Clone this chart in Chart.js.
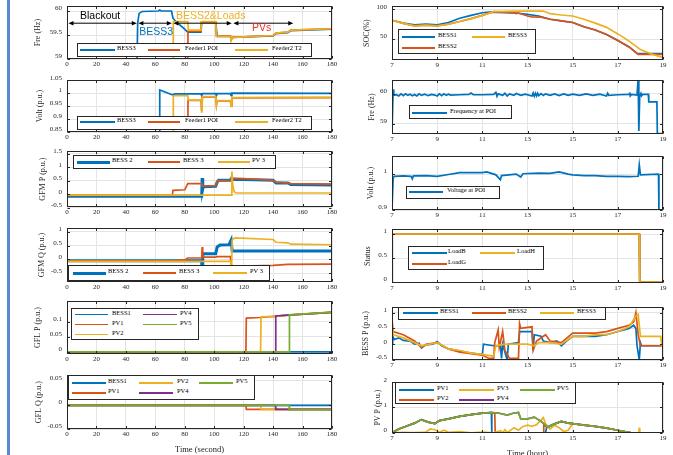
<!DOCTYPE html>
<html>
<head>
<meta charset="utf-8">
<script src="https://cdn.jsdelivr.net/npm/chart.js@4.4.1/dist/chart.umd.min.js"></script>
<style>
  body { margin:0; background:#fff; width:673px; height:455px; overflow:hidden; position:relative; }
  canvas { position:absolute; }
  .bar { position:absolute; left:7px; top:0; width:2.5px; height:455px; background:#5a8acb; }
  .leg { position:absolute; box-sizing:border-box; border:1px solid #262626; background:#fff; }
  .sw { position:absolute; }
  .lt { position:absolute; font:6.5px "Liberation Serif"; line-height:8px; color:#000; white-space:nowrap; }
</style>
</head>
<body>
<div class="bar"></div>
<script>
// ---------- data ----------
const tickSec = [0,20,40,60,80,100,120,140,160,180];
const tickHour = [7,9,11,13,15,17,19];

// Fre (Hz), left
const fre_BESS3 = [[0,58.8],[47.5,58.8],[48,59.75],[49,59.95],[51,59.99],[62,60.0],[63,60.02],[64,60.0],[71,60.0],[72,59.85],[74,59.78],[79,59.65],[82,59.56],[91,59.56],[91.5,59.76],[101,59.76],[102,59.47],[111,59.47],[111.5,59.4],[112.5,59.45],[140,59.48],[142,59.53],[150,59.55],[152,59.59],[180,59.62]];
const fre_F1POI = [[0,58.8],[82,58.8],[82.2,59.58],[91,59.58],[91.3,59.77],[101,59.77],[101.5,59.48],[111,59.48],[111.5,59.4],[112.5,59.45],[140,59.49],[142,59.54],[150,59.56],[152,59.6],[180,59.63]];
const fre_F2T2 = [[0,58.8],[72,58.8],[72.2,59.78],[82,59.78],[82.5,59.6],[91,59.6],[91.3,59.78],[101,59.78],[101.5,59.47],[111,59.47],[111.5,59.38],[112.5,59.45],[140,59.49],[142,59.54],[150,59.56],[152,59.6],[180,59.63]];

// Volt (p.u.), left
const volt_BESS3 = [[0,0.8],[62.8,0.8],[63,1.012],[71,0.995],[72,0.993],[73,0.997],[91,0.997],[91.5,0.99],[92,0.998],[101,0.998],[101.5,0.99],[102,0.998],[111,0.998],[111.5,0.99],[112,1.0],[180,0.999]];
const volt_F1POI = [[0,0.8],[82,0.8],[82.2,0.972],[91,0.972],[91.5,0.93],[92,0.986],[101,0.986],[101.5,0.955],[102,0.97],[111,0.97],[111.5,0.95],[112,0.982],[180,0.983]];
const volt_F2T2 = [[0,0.8],[72,0.8],[72.2,0.99],[82,0.99],[82.5,0.973],[91,0.973],[91.5,0.924],[92,0.987],[101,0.987],[101.5,0.952],[102,0.971],[111,0.971],[111.5,0.949],[112,0.983],[180,0.984]];

// GFM P (p.u.)
const gfmP_BESS2 = [[0,-0.07],[91.5,-0.07],[91.8,0.6],[92.2,0.2],[92.5,0.28],[101,0.3],[102,0.45],[103,0.52],[111,0.52],[111.8,0.6],[112.5,0.55],[120,0.55],[140,0.52],[142,0.42],[150,0.42],[152,0.36],[180,0.35]];
const gfmP_BESS3 = [[0,-0.04],[71.5,-0.04],[72,0.15],[80,0.17],[82,0.4],[91.5,0.4],[92,0.3],[101,0.32],[102,0.5],[111,0.52],[112,0.6],[120,0.58],[140,0.52],[142,0.45],[150,0.42],[152,0.4],[180,0.38]];
const gfmP_PV3 = [[0,-0.03],[111.5,-0.03],[112,0.85],[112.6,0.35],[113.5,0.1],[115,0.05],[180,0.05]];

// GFM Q (p.u.)
const gfmQ_BESS2 = [[0,-0.05],[91.5,-0.05],[91.8,-0.8],[92.2,0.2],[101,0.2],[102,0.45],[104,0.52],[110,0.53],[111.5,0.7],[112.2,0.3],[180,0.3]];
const gfmQ_BESS3 = [[0,-0.05],[72,-0.05],[80,-0.02],[82,0.05],[91.5,0.05],[91.8,0.45],[92.2,0.08],[101,0.08],[102,0.1],[111,0.1],[111.5,-0.2],[113,-0.25],[140,-0.22],[150,-0.18],[180,-0.17]];
const gfmQ_PV3 = [[0,-0.07],[111.3,-0.07],[111.6,-0.85],[112.2,0.7],[114,0.78],[140,0.72],[142,0.62],[150,0.6],[152,0.55],[180,0.53]];

// GFL P (p.u.)
const gflP_BESS1 = [[0,0],[180,0]];
const gflP_PV1 = [[0,0],[121.5,0],[121.8,0.112],[131,0.114],[141,0.118],[150,0.122],[180,0.131]];
const gflP_PV2 = [[0,0],[131.5,0],[131.8,0.116],[141,0.118],[150,0.122],[180,0.131]];
const gflP_PV4 = [[0,0],[141.5,0],[141.8,0.119],[150,0.122],[180,0.131]];
const gflP_PV5 = [[0,0],[150.8,0],[151.1,0.123],[180,0.132]];

// GFL Q (p.u.)
const gflQ_BESS1 = [[0,-0.001],[180,-0.001]];
const gflQ_PV1 = [[0,-0.001],[121.5,-0.001],[121.8,-0.009],[180,-0.009]];
const gflQ_PV2 = [[0,-0.001],[131.5,-0.001],[131.8,-0.009],[180,-0.009]];
const gflQ_PV4 = [[0,-0.001],[141.5,-0.001],[141.8,-0.009],[180,-0.009]];
const gflQ_PV5 = [[0,-0.001],[150.8,-0.001],[151.1,-0.01],[180,-0.01]];

// SOC (%)
const soc_BESS1 = [[7,81.9],[7.5,77],[8,74.2],[8.5,75.3],[9,74.2],[9.5,78],[10,85.2],[10.5,90],[11,94.5],[11.3,95.6],[12,94.5],[12.5,94],[13,91.8],[13.5,89],[14,83.5],[14.5,80.8],[15,78],[15.5,70.9],[16,65.4],[16.5,57.7],[17,47.8],[17.5,36.8],[17.85,25.8],[19,25.8]];
const soc_BESS2 = [[7,81.9],[7.5,76.5],[8,72.5],[8.5,73.6],[9,72.5],[9.5,75.3],[10,79.7],[10.5,84.6],[11,90],[11.5,96.2],[12,95.6],[12.4,94],[12.5,92.9],[12.6,94],[13,89],[13.2,87.4],[13.6,87],[14,83.5],[14.5,80.8],[15,78],[15.5,70.9],[16,65.4],[16.5,57.7],[17,47.8],[17.5,36.8],[17.9,24.2],[19,24.2]];
const soc_BESS3 = [[7,81.9],[7.5,76.5],[8,72.5],[8.5,73.6],[9,72.5],[9.5,75.3],[10,79.7],[10.5,84.6],[11,90],[11.5,96.2],[12,96.7],[12.5,97.3],[13,97.3],[13.7,97.3],[14,92.9],[14.5,90.7],[15,89],[15.5,83.5],[16,76.9],[16.5,69.8],[17,58.8],[17.5,46.7],[18,32.4],[18.5,24.7],[19,19.2]];

// Frequency at POI (Hz)
const frePOI = [[7,58.66],[7.03,58.66],[7.05,60.15],[7.08,59.95],[7.2,59.97],[7.3,59.93],[7.4,60.0],[7.5,59.94],[7.6,60.0],[7.7,59.95],[7.8,59.99],[7.9,59.94],[8.0,59.98],[8.1,59.93],[8.2,60.0],[8.3,59.95],[8.45,59.99],[8.6,59.94],[8.75,59.98],[8.9,59.96],[9.0,59.93],[9.1,60.0],[9.2,59.94],[9.3,60.0],[9.4,59.95],[9.5,59.99],[9.6,59.96],[10.0,59.97],[10.4,59.98],[10.5,60.03],[10.6,59.97],[11.0,59.97],[11.5,59.98],[11.6,60.05],[11.65,59.92],[11.7,60.0],[11.9,59.95],[12.0,60.02],[12.1,59.93],[12.2,60.0],[12.4,59.95],[12.5,60.01],[12.7,59.95],[12.9,59.99],[13.2,59.93],[13.25,60.03],[13.3,59.92],[13.35,60.02],[13.4,59.93],[13.45,60.02],[13.5,59.94],[13.6,60.01],[13.7,59.95],[13.8,60.0],[14.0,59.95],[14.2,60.0],[14.4,59.94],[14.6,60.0],[14.8,59.95],[15.0,59.99],[15.3,59.95],[15.6,60.0],[15.9,59.95],[16.2,59.99],[16.5,59.93],[16.55,60.02],[16.6,59.95],[17.0,59.97],[17.5,59.98],[17.52,60.05],[17.55,59.93],[17.6,59.98],[17.85,59.96],[17.9,60.5],[17.93,58.75],[17.97,59.95],[18.02,60.02],[18.05,59.93],[18.1,59.98],[18.35,59.98],[18.37,59.73],[18.73,59.73],[18.75,58.66],[19,58.66]];

// Voltage at POI (p.u.)
const voltPOI = [[7,0.9],[7.03,0.9],[7.05,0.989],[7.1,0.994],[7.5,0.995],[7.85,0.994],[7.9,0.987],[7.95,0.995],[8.5,0.996],[9,0.994],[9.5,0.999],[10,1.004],[11,1.004],[11.2,1.006],[11.6,0.998],[11.8,0.984],[11.85,0.996],[12.5,1.0],[12.7,0.992],[12.8,1.001],[13.5,1.003],[14,1.002],[14.4,1.006],[14.8,1.0],[15,0.998],[15.5,0.996],[16,0.996],[16.5,0.994],[17,0.994],[17.5,0.993],[17.9,0.994],[17.95,1.026],[18.0,0.998],[18.8,1.0],[18.82,0.9],[19,0.9]];

// Status
const st_LoadB = [[7,0],[7.01,1],[17.95,1],[17.97,0],[19,0]];
const st_LoadG = [[7,0],[7.01,1],[17.95,1],[17.97,0],[19,0]];
const st_LoadH = [[7,0],[7.01,1],[17.95,1],[17.97,0],[19,0]];

// BESS P (p.u.)
const bessP_BESS1 = [[7,0],[7.03,0.25],[7.1,0.15],[7.3,0.2],[7.5,0.12],[7.8,0.1],[8.0,0.0],[8.2,0.03],[8.3,-0.12],[8.5,-0.02],[8.8,0.0],[9.0,0.08],[9.2,-0.05],[9.5,-0.15],[10,-0.22],[10.5,-0.28],[11,-0.33],[11.05,0],[11.5,-0.05],[11.8,-0.05],[11.85,-0.45],[11.9,0],[12.1,-0.5],[12.15,0],[12.6,0.05],[12.65,0.4],[13.2,0.4],[13.25,-0.2],[13.3,0.3],[13.6,0.25],[13.7,0.1],[14.0,0.05],[14.3,0.1],[14.5,-0.05],[14.7,0.08],[15,0.25],[15.5,0.25],[16,0.25],[16.5,0.3],[17,0.4],[17.5,0.5],[17.7,0.6],[17.8,0.5],[17.85,-0.05],[17.95,-0.5],[18,0.05],[18.05,-0.05],[19,-0.05]];
const bessP_BESS2 = [[7,0.8],[7.05,0.4],[7.5,0.3],[8,0.1],[8.3,-0.1],[8.5,0.0],[9,0.05],[9.5,-0.15],[10,-0.25],[10.5,-0.3],[11,-0.35],[11.3,-0.45],[11.5,-0.45],[11.55,0.05],[11.7,0.45],[11.75,-0.1],[11.9,0.4],[12.0,-0.2],[12.2,-0.45],[12.6,-0.45],[12.65,0.65],[12.7,0.5],[13.2,0.55],[13.25,-0.2],[13.4,0.1],[13.8,0.3],[14,0.1],[14.5,0.05],[15,0.35],[15.5,0.35],[16,0.35],[16.5,0.4],[17,0.5],[17.5,0.6],[17.7,0.7],[17.8,1.0],[17.9,0.3],[18,-0.05],[19,-0.05]];
const bessP_BESS3 = [[7,0.7],[7.05,0.3],[7.5,0.2],[8,0.05],[8.3,-0.05],[9,0.05],[9.5,-0.15],[10,-0.2],[10.5,-0.28],[11,-0.32],[11.5,-0.38],[11.6,-0.05],[12,0.0],[12.5,0.0],[13,0.0],[13.3,-0.05],[13.5,0.05],[14,0.05],[14.5,0.0],[15,0.25],[15.5,0.25],[16,0.3],[16.5,0.3],[17,0.4],[17.5,0.55],[17.8,0.9],[17.9,0.95],[18.0,0.25],[18.9,0.25],[18.95,-0.05],[19,-0.05]];

// PV P (p.u.)
const pvP_PV1 = [[7,0],[7.3,0.15],[7.6,0.25],[8,0.38],[8.3,0.52],[8.6,0.42],[8.9,0.36],[9.1,0.48],[9.5,0.55],[10,0.65],[10.5,0.72],[11,0.78],[11.4,0.8],[11.42,0],[13.8,0],[13.85,0.22],[14.2,0.35],[14.5,0.45],[14.8,0.38],[15,0.36],[15.5,0.3],[16,0.25],[16.5,0.18],[17,0.1],[17.4,0.03],[17.6,0],[19,0]];
const pvP_PV2 = [[7,0],[7.3,0.15],[7.6,0.25],[8,0.38],[8.3,0.52],[8.6,0.42],[8.9,0.36],[9.1,0.48],[9.5,0.55],[10,0.65],[10.5,0.72],[11,0.78],[11.4,0.8],[11.55,0.79],[11.57,0],[13.7,0],[13.72,0.3],[13.9,0.22],[14.2,0.35],[14.5,0.45],[14.8,0.38],[15,0.36],[15.5,0.3],[16,0.25],[16.5,0.18],[17,0.1],[17.4,0.03],[17.6,0],[19,0]];
const pvP_PV3 = [[7,0],[7.5,0.02],[8,0.01],[8.5,0.03],[8.7,0.15],[8.9,0.12],[9.1,0.02],[9.3,0.1],[9.5,0.02],[10,0.05],[10.5,0.0],[11,0.03],[11.5,0.0],[11.8,0.08],[11.9,0.0],[12.0,0.12],[12.1,0.0],[12.4,0.2],[12.6,0.1],[12.8,0.25],[13,0.3],[13.2,0.25],[13.4,0.32],[13.6,0.5],[13.7,0.6],[13.8,0.35],[14.0,0.15],[14.2,0.3],[14.4,0.2],[14.6,0.05],[14.8,0.1],[15,0.36],[15.5,0.3],[16,0.25],[16.5,0.18],[17,0.1],[17.4,0.03],[17.6,0],[17.93,0],[17.95,0.2],[17.97,0],[19,0]];
const pvP_PV4 = [[7,0],[7.3,0.15],[7.6,0.25],[8,0.38],[8.3,0.52],[8.6,0.42],[8.9,0.36],[9.1,0.48],[9.5,0.55],[10,0.65],[10.5,0.72],[11,0.78],[11.4,0.8],[11.7,0.78],[12.1,0.7],[12.4,0.78],[12.6,0.8],[12.7,0.55],[13,0.55],[13.3,0.62],[13.6,0.45],[13.9,0.22],[14.2,0.35],[14.5,0.45],[14.8,0.38],[15,0.36],[15.5,0.3],[16,0.25],[16.5,0.18],[17,0.1],[17.4,0.03],[17.6,0],[19,0]];
const pvP_PV5 = [[7,0],[7.3,0.15],[7.6,0.25],[8,0.38],[8.3,0.52],[8.6,0.42],[8.9,0.36],[9.1,0.48],[9.5,0.55],[10,0.65],[10.5,0.72],[11,0.78],[11.4,0.8],[11.7,0.78],[12.1,0.7],[12.4,0.78],[12.6,0.8],[12.7,0.55],[13,0.55],[13.3,0.62],[13.6,0.45],[13.9,0.22],[14.2,0.35],[14.5,0.45],[14.8,0.38],[15,0.36],[15.5,0.3],[16,0.25],[16.5,0.18],[17,0.1],[17.4,0.03],[17.6,0],[19,0]];

// stage annotations of the first panel (seconds)
const stageNames = ['Blackout','BESS3','BESS2&Loads','PVs'];
const stageSpans = [[1,47.4],[48.5,71.2],[72.3,111.9],[113,153.7]];
const stageTextAt = [8.8,49,74,125.7];

// ---------- drawing ----------
const C = { blue:'#0072BD', red:'#D95319', yel:'#EDB120', pur:'#7E2F8E', grn:'#77AC30' };
const PAD_T = 8, PAD_R = 12;
const SERIF = 'Liberation Serif';

const boxPlugin = {
  id: 'matBox',
  afterDatasetsDraw(ch) {
    const { ctx, chartArea: a, scales: { x, y } } = ch;
    const L = Math.round(a.left) + 0.5, R = Math.round(a.right) - 0.5;
    const T = Math.round(a.top) + 0.5, B = Math.round(a.bottom) - 0.5;
    ctx.save();
    ctx.strokeStyle = '#262626';
    ctx.lineWidth = 1;
    ctx.beginPath();
    x.ticks.forEach(t => {
      const p = Math.round(x.getPixelForValue(t.value)) + 0.5;
      ctx.moveTo(p, B); ctx.lineTo(p, B - 2.5);
      ctx.moveTo(p, T); ctx.lineTo(p, T + 2.5);
    });
    y.ticks.forEach(t => {
      const p = Math.round(y.getPixelForValue(t.value)) + 0.5;
      ctx.moveTo(L, p); ctx.lineTo(L + 2.5, p);
      ctx.moveTo(R, p); ctx.lineTo(R - 2.5, p);
    });
    ctx.stroke();
    ctx.strokeRect(L, T, R - L, B - T);
    ctx.restore();
  }
};

const stagePlugin = {
  id: 'stages',
  afterDatasetsDraw(ch) {
    const { ctx, chartArea: a, scales: { x } } = ch;
    const colors = ['#000', C.blue, C.yel, '#e8302a'];
    const textY = [10, 26, 10, 22];
    const ay = a.top + 17;
    ctx.save();
    ctx.strokeStyle = '#000'; ctx.fillStyle = '#000'; ctx.lineWidth = 1;
    stageSpans.forEach(([s, e]) => {
      const x1 = x.getPixelForValue(s), x2 = x.getPixelForValue(e);
      ctx.beginPath(); ctx.moveTo(x1 + 3, ay); ctx.lineTo(x2 - 3, ay); ctx.stroke();
      ctx.beginPath(); ctx.moveTo(x1, ay); ctx.lineTo(x1 + 5, ay - 2.2); ctx.lineTo(x1 + 5, ay + 2.2); ctx.closePath(); ctx.fill();
      ctx.beginPath(); ctx.moveTo(x2, ay); ctx.lineTo(x2 - 5, ay - 2.2); ctx.lineTo(x2 - 5, ay + 2.2); ctx.closePath(); ctx.fill();
    });
    ctx.font = '10.5px "Liberation Sans"';
    ctx.textBaseline = 'middle';
    stageNames.forEach((n, i) => {
      ctx.fillStyle = colors[i];
      ctx.fillText(n, x.getPixelForValue(stageTextAt[i]), a.top + textY[i]);
    });
    ctx.restore();
  }
};

function addLegend(lg, series) {
  const [bl, bt, bw, bh] = lg.box;
  const d = document.createElement('div');
  d.className = 'leg';
  d.style.cssText = `left:${bl}px;top:${bt}px;width:${bw}px;height:${bh}px`;
  series.forEach((s, i) => {
    const col = lg.cols[Math.floor(i / lg.rows.length)];
    const ry = lg.rows[i % lg.rows.length];
    const lw = s.lw || 1.8;
    const sw = document.createElement('div');
    sw.className = 'sw';
    sw.style.cssText = `left:${col[0] - bl - 1}px;top:${ry - bt - 1 - lw / 2}px;width:${col[1]}px;height:${lw}px;background:${s.color}`;
    const t = document.createElement('div');
    t.className = 'lt';
    t.textContent = s.name;
    t.style.cssText = `left:${col[2] - bl - 1}px;top:${ry - bt - 1 - 6}px`;
    d.append(sw, t);
  });
  document.body.appendChild(d);
}

function panel(p) {
  const [px, py, pw, ph] = p.rect;
  const W = p.yw + pw + PAD_R, H = PAD_T + ph + p.xh;
  const cv = document.createElement('canvas');
  cv.width = W; cv.height = H;
  cv.style.left = (px - p.yw) + 'px';
  cv.style.top = (py - PAD_T) + 'px';
  document.body.appendChild(cv);
  const tickFont = { family: SERIF, size: 7 };
  const n = p.series.length;
  new Chart(cv, {
    type: 'line',
    data: {
      datasets: p.series.map((s, i) => ({
        label: s.name,
        data: s.data.map(([x, y]) => ({ x, y })),
        borderColor: s.color,
        borderWidth: s.lw || 1.7,
        pointRadius: 0,
        fill: false,
        tension: 0,
        order: n - i
      }))
    },
    options: {
      responsive: false,
      animation: false,
      devicePixelRatio: 1,
      events: [],
      layout: { padding: { top: PAD_T, right: PAD_R, left: 0, bottom: 0 } },
      plugins: { legend: { display: false }, tooltip: { enabled: false } },
      scales: {
        x: {
          type: 'linear', min: p.x[0], max: p.x[1],
          afterBuildTicks: s => { s.ticks = p.xt.map(v => ({ value: v })); },
          afterFit: s => { s.height = p.xh; },
          ticks: { font: tickFont, color: '#262626', padding: 1, maxRotation: 0, autoSkip: false, callback: v => String(v) },
          grid: { color: '#e4e4e4', drawTicks: false },
          border: { display: false },
          title: p.xtitle ? { display: true, text: p.xtitle, font: { family: SERIF, size: 8.5 }, color: '#262626', padding: { top: 0, bottom: 0 } } : { display: false }
        },
        y: {
          type: 'linear', min: p.y[0], max: p.y[1],
          afterBuildTicks: s => { s.ticks = p.yt.map(v => ({ value: v })); },
          afterFit: s => { s.width = p.yw; },
          ticks: { font: tickFont, color: '#262626', padding: 5, labelOffset: -2.5, callback: v => String(v) },
          grid: { color: '#e4e4e4', drawTicks: false },
          border: { display: false },
          title: { display: true, text: p.ytitle, font: { family: SERIF, size: 8 }, color: '#262626', padding: { top: p.tx - (px - p.yw) - 4.8, bottom: 0 } }
        }
      }
    },
    plugins: [boxPlugin].concat(p.plugins || [])
  });
  if (p.legend) addLegend(p.legend, p.series);
}

const LX = 67, LW = 265, RX = 392, RW = 271;

panel({ rect:[LX,5,LW,54], yw:40, xh:12, tx:38, ytitle:'Fre (Hz)', x:[0,180], xt:tickSec, y:[59,60.1], yt:[59,59.5,60],
  series:[{name:'BESS3',data:fre_BESS3,color:C.blue},{name:'Feeder1 POI',data:fre_F1POI,color:C.red},{name:'Feeder2 T2',data:fre_F2T2,color:C.yel}],
  legend:{box:[77,43,235,14],cols:[[80,35,117],[148,32,185],[235,33,272]],rows:[50]}, plugins:[stagePlugin] });

panel({ rect:[LX,79,LW,53], yw:40, xh:12, tx:40, ytitle:'Volt (p.u.)', x:[0,180], xt:tickSec, y:[0.85,1.05], yt:[0.85,0.9,0.95,1,1.05],
  series:[{name:'BESS3',data:volt_BESS3,color:C.blue},{name:'Feeder1 POI',data:volt_F1POI,color:C.red},{name:'Feeder2 T2',data:volt_F2T2,color:C.yel}],
  legend:{box:[77,116,235,14],cols:[[80,35,117],[148,32,185],[235,33,272]],rows:[122]} });

panel({ rect:[LX,150,LW,57], yw:40, xh:12, tx:43, ytitle:'GFM P (p.u.)', x:[0,180], xt:tickSec, y:[-0.47,1.6], yt:[-0.5,0,0.5,1,1.5],
  series:[{name:'BESS 2',data:gfmP_BESS2,color:C.blue,lw:3},{name:'BESS 3',data:gfmP_BESS3,color:C.red},{name:'PV 3',data:gfmP_PV3,color:C.yel}],
  legend:{box:[73,155,203,14],cols:[[77,33,112],[148,32,183],[218,32,252]],rows:[162]} });

panel({ rect:[LX,227,LW,55], yw:40, xh:12, tx:42, ytitle:'GFM Q (p.u.)', x:[0,180], xt:tickSec, y:[-0.82,1.13], yt:[-0.5,0,0.5,1],
  series:[{name:'BESS 2',data:gfmQ_BESS2,color:C.blue,lw:3},{name:'BESS 3',data:gfmQ_BESS3,color:C.red},{name:'PV 3',data:gfmQ_PV3,color:C.yel}],
  legend:{box:[68,265,202,16],cols:[[73,33,108],[143,33,179],[213,34,250]],rows:[273]} });

panel({ rect:[LX,300,LW,54], yw:40, xh:12, tx:38, ytitle:'GFL P (p.u.)', x:[0,180], xt:tickSec, y:[-0.007,0.168], yt:[0,0.05,0.1],
  series:[{name:'BESS1',data:gflP_BESS1,color:C.blue},{name:'PV1',data:gflP_PV1,color:C.red},{name:'PV2',data:gflP_PV2,color:C.yel},{name:'PV4',data:gflP_PV4,color:C.pur},{name:'PV5',data:gflP_PV5,color:C.grn}],
  legend:{box:[71,308,128,32],cols:[[75,33,112],[143,34,180]],rows:[314.5,324.5,334.5]} });

panel({ rect:[LX,374,LW,55], yw:40, xh:26, tx:39, ytitle:'GFL Q (p.u.)', x:[0,180], xt:tickSec, y:[-0.05,0.062], yt:[-0.05,0,0.05], xtitle:'Time (second)',
  series:[{name:'BESS1',data:gflQ_BESS1,color:C.blue},{name:'PV1',data:gflQ_PV1,color:C.red},{name:'PV2',data:gflQ_PV2,color:C.yel},{name:'PV4',data:gflQ_PV4,color:C.pur},{name:'PV5',data:gflQ_PV5,color:C.grn}],
  legend:{box:[68,375,187,25],cols:[[72,34,108],[139,34,177],[199,34,236]],rows:[383,393]} });

panel({ rect:[RX,5,RW,55], yw:34, xh:12, tx:367, ytitle:'SOC(%)', x:[7,19], xt:tickHour, y:[14.8,105.5], yt:[50,100],
  series:[{name:'BESS1',data:soc_BESS1,color:C.blue},{name:'BESS2',data:soc_BESS2,color:C.red},{name:'BESS3',data:soc_BESS3,color:C.yel}],
  legend:{box:[398,29,138,25],cols:[[402,33,438],[472,33,508]],rows:[37.3,47.7]} });

panel({ rect:[RX,79,RW,55], yw:34, xh:12, tx:372, ytitle:'Fre (Hz)', x:[7,19], xt:tickHour, y:[58.65,60.46], yt:[59,60],
  series:[{name:'Frequency at POI',data:frePOI,color:C.blue}],
  legend:{box:[409,105,103,14],cols:[[412,35,450]],rows:[112.7]} });

panel({ rect:[RX,155,RW,55], yw:34, xh:12, tx:371, ytitle:'Volt (p.u.)', x:[7,19], xt:tickHour, y:[0.9,1.05], yt:[0.9,1],
  series:[{name:'Voltage at POI',data:voltPOI,color:C.blue}],
  legend:{box:[406,186,94,13],cols:[[409,34,447]],rows:[192.3]} });

panel({ rect:[RX,228,RW,55], yw:34, xh:12, tx:368, ytitle:'Status', x:[7,19], xt:tickHour, y:[-0.02,1.1], yt:[0,0.5,1],
  series:[{name:'LoadB',data:st_LoadB,color:C.blue},{name:'LoadG',data:st_LoadG,color:C.red},{name:'LoadH',data:st_LoadH,color:C.yel}],
  legend:{box:[408,246,136,24],cols:[[412,35,448],[480,35,517]],rows:[253,263.7]} });

panel({ rect:[RX,306,RW,54], yw:34, xh:12, tx:366, ytitle:'BESS P (p.u.)', x:[7,19], xt:tickHour, y:[-0.5,1.17], yt:[-0.5,0,0.5,1],
  series:[{name:'BESS1',data:bessP_BESS1,color:C.blue},{name:'BESS2',data:bessP_BESS2,color:C.red},{name:'BESS3',data:bessP_BESS3,color:C.yel}],
  legend:{box:[398,307,208,13],cols:[[403,35,440],[472,34,508],[540,34,577]],rows:[313]} });

panel({ rect:[RX,381,RW,52], yw:34, xh:26, tx:378, ytitle:'PV P (p.u.)', x:[7,19], xt:tickHour, y:[-0.01,2], yt:[0,1,2], xtitle:'Time (hour)',
  series:[{name:'PV1',data:pvP_PV1,color:C.blue},{name:'PV2',data:pvP_PV2,color:C.red},{name:'PV3',data:pvP_PV3,color:C.yel},{name:'PV4',data:pvP_PV4,color:C.pur},{name:'PV5',data:pvP_PV5,color:C.grn}],
  legend:{box:[395,382,181,22],cols:[[399,35,437],[459,35,497],[520,35,557]],rows:[389.7,400.3]} });
</script>
</body>
</html>
